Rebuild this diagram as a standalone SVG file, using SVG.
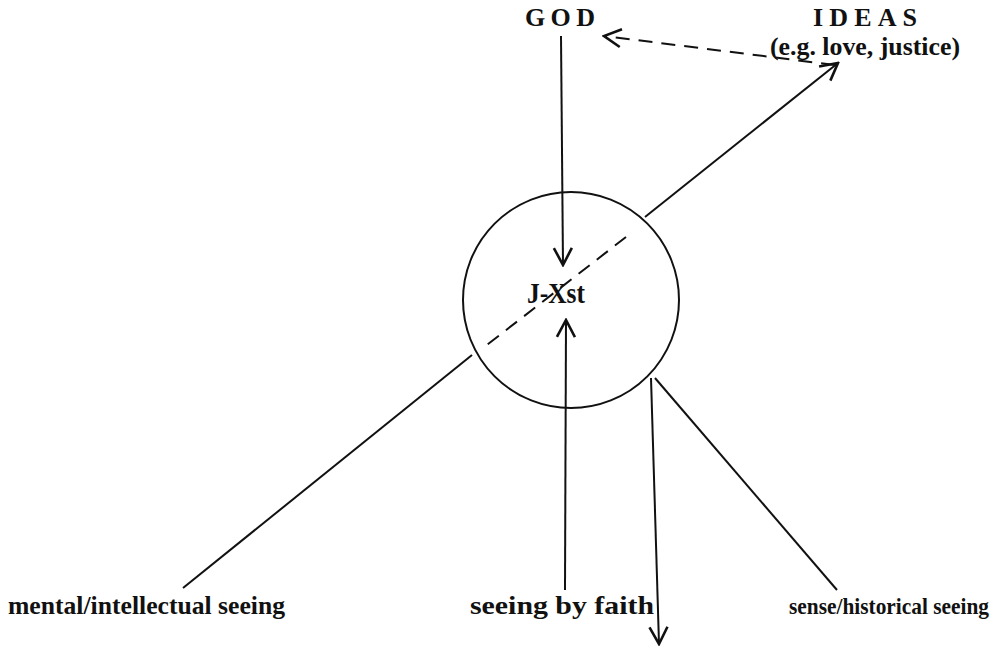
<svg xmlns="http://www.w3.org/2000/svg" width="1005" height="648" viewBox="0 0 1005 648">
<defs>
<style>
text{font-family:"Liberation Serif","Times New Roman",serif;font-weight:bold;fill:#111}
.ttl{font-size:26px}
.lbl{font-size:26px}
.ln{stroke:#111;stroke-width:2;fill:none}
.dash{stroke:#111;stroke-width:2;fill:none;stroke-dasharray:14 9}
</style>
<marker id="arr" viewBox="0 0 22 22" refX="20" refY="11" markerWidth="22" markerHeight="22" markerUnits="userSpaceOnUse" orient="auto">
<path d="M3,2 L20,11 L3,20" fill="none" stroke="#111" stroke-width="2.6"/>
</marker>
</defs>
<rect width="1005" height="648" fill="#fff"/>
<g id="god"><text x="525" y="26" class="ttl" textLength="70" lengthAdjust="spacing">GOD</text></g>
<g id="ideas"><text x="813" y="26" class="ttl" textLength="104" lengthAdjust="spacing">IDEAS</text>
<text x="770" y="55" class="lbl" textLength="190" lengthAdjust="spacingAndGlyphs">(e.g. love, justice)</text></g>
<g id="jxst"><circle cx="571" cy="300" r="108" class="ln"/>
<text x="527" y="303" style="font-size:29px" textLength="58" lengthAdjust="spacingAndGlyphs">J-Xst</text></g>
<g id="mental"><text x="8" y="614" class="lbl" textLength="277" lengthAdjust="spacingAndGlyphs">mental/intellectual seeing</text></g>
<g id="faith"><text x="470" y="614" class="lbl" textLength="184" lengthAdjust="spacingAndGlyphs">seeing by faith</text></g>
<g id="sense"><text x="789" y="614" style="font-size:23px" textLength="200" lengthAdjust="spacingAndGlyphs">sense/historical seeing</text></g>
<g id="connectors">
<line x1="561" y1="36" x2="563" y2="265" class="ln" marker-end="url(#arr)"/>
<line x1="565" y1="590" x2="566" y2="320" class="ln" marker-end="url(#arr)"/>
<line x1="645" y1="217" x2="838" y2="63" class="ln" marker-end="url(#arr)"/>
<line x1="835" y1="65" x2="604" y2="36" class="dash" marker-end="url(#arr)"/>
<line x1="626" y1="237" x2="483" y2="348" class="dash"/>
<line x1="472" y1="355" x2="183" y2="588" class="ln"/>
<line x1="655" y1="378" x2="837" y2="590" class="ln"/>
<line x1="651" y1="378" x2="659" y2="644" class="ln" marker-end="url(#arr)"/>
</g>
</svg>
